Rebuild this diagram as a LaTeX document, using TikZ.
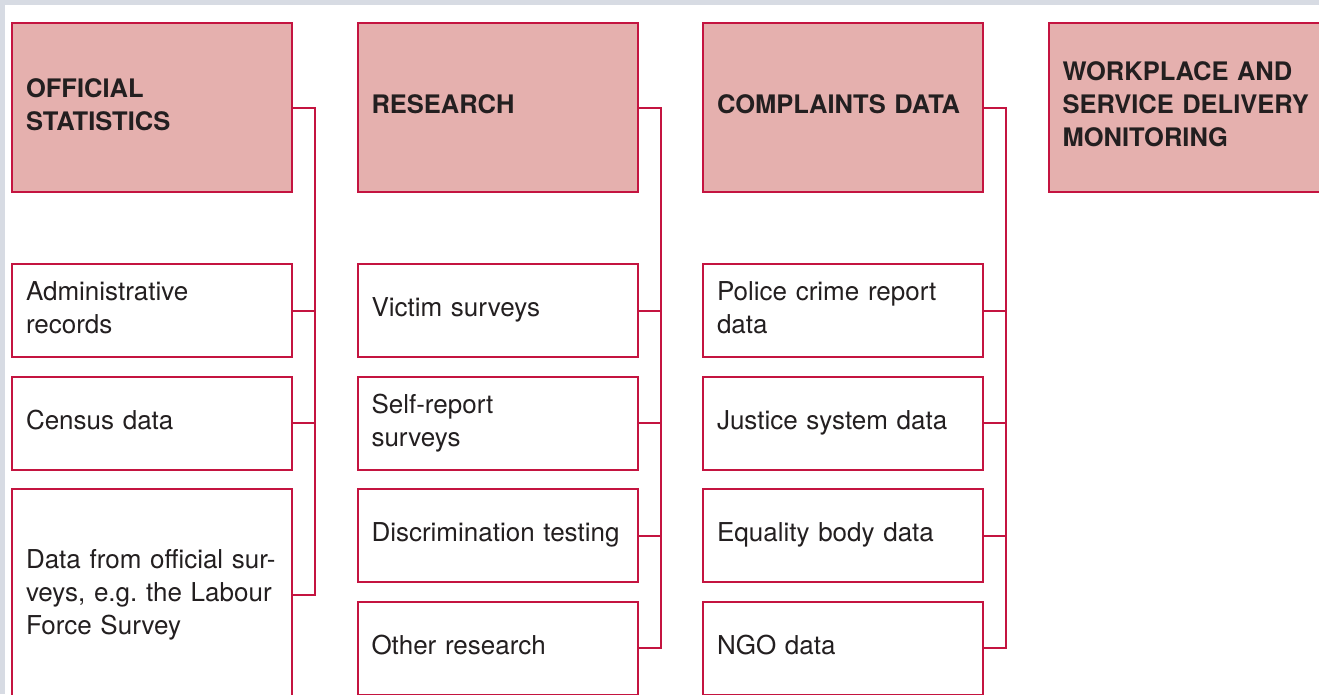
\documentclass[tikz,border=0pt]{standalone}
\usepackage{fontspec}
\setmainfont{TeX Gyre Heros}
\usetikzlibrary{positioning}

\definecolor{fraline}{RGB}{196,20,64}
\definecolor{frafill}{RGB}{229,176,174}
\definecolor{fratext}{RGB}{35,31,32}
\definecolor{frabg}{RGB}{215,219,227}

% keeps a fixed depth under the last line of a box
\newcommand{\lastdepth}{\rule[-6pt]{0pt}{1pt}}

\tikzset{
  head/.style={draw=fraline,fill=frafill,line width=2pt,outer sep=0pt,
    minimum width=280pt,minimum height=169pt,text width=252pt,inner xsep=14pt,
    execute at end node=\lastdepth,align=left,text=fratext,
    font=\fontsize{25.5}{33}\selectfont\bfseries},
  item/.style={draw=fraline,fill=white,line width=2pt,outer sep=0pt,
    minimum width=280pt,minimum height=93pt,text width=252pt,inner xsep=14pt,
    execute at end node=\lastdepth,align=left,text=fratext,
    font=\fontsize{26}{33}\selectfont\frenchspacing},
  link/.style={draw=fraline,line width=2pt}
}

\begin{document}
\begin{tikzpicture}[node distance=19.5pt and 65.5pt]
% page and frame
\fill[frabg] (0,0) rectangle (1319pt,-694pt);
\fill[white] (5pt,-5pt) rectangle (1319pt,-694pt);
\useasboundingbox (0,0) rectangle (1319pt,-694pt);
\clip (0,0) rectangle (1319pt,-694pt);

% column heads
\node[head] (off) at (152pt,-107.5pt) {OFFICIAL\\STATISTICS};
\node[head,right=of off] (res) {RESEARCH};
\node[head,right=of res] (comp) {COMPLAINTS DATA};
\node[head,right=of comp] (work) {WORKPLACE AND\\SERVICE DELIVERY\\MONITORING};

% sources under each head
\node[item,below=72pt of off] (admin) {Administrative\\records};
\node[item,below=of admin] (census) {Census data};
\node[item,below=of census,minimum height=212pt] (offsurv) {Data from official sur-\\veys, e.g. the Labour\\Force Survey};

\node[item,below=72pt of res] (vict) {Victim surveys};
\node[item,below=of vict] (selfrep) {Self-report\\surveys};
\node[item,below=of selfrep] (disc) {Discrimination testing};
\node[item,below=of disc] (other) {Other research};

\node[item,below=72pt of comp] (police) {Police crime report\\data};
\node[item,below=of police] (justice) {Justice system data};
\node[item,below=of justice] (equal) {Equality body data};
\node[item,below=of equal] (ngo) {NGO data};

% brackets
\draw[link] (off.east) -- ++(23pt,0) |- (offsurv.east);
\draw[link] (res.east) -- ++(23pt,0) |- (other.east);
\draw[link] (comp.east) -- ++(23pt,0) |- (ngo.east);
\foreach \n in {admin,census,vict,selfrep,disc,police,justice,equal}
  \draw[link] (\n.east) -- ++(23pt,0);
\end{tikzpicture}
\end{document}
